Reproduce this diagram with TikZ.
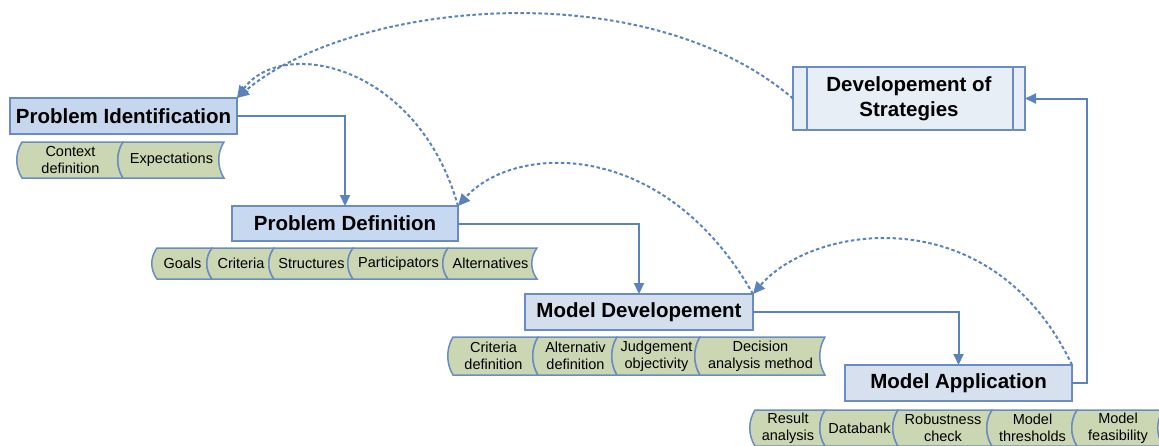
\documentclass[tikz,border=0pt]{standalone}
\usepackage{fontspec}
\setmainfont{Liberation Sans}
\usetikzlibrary{arrows.meta}

\definecolor{boxedge}{HTML}{6A8CC3}
\definecolor{flowline}{HTML}{5A83BE}
\definecolor{tagfill}{HTML}{CBD6B3}
\definecolor{fillA}{HTML}{C6D6EC}
\definecolor{fillB}{HTML}{C7D9F0}
\definecolor{fillC}{HTML}{D4DEED}
\definecolor{fillD}{HTML}{D7E0EE}
\definecolor{fillE}{HTML}{E8EEF6}

\tikzset{
  stagebox/.style={draw=boxedge, line width=1.7pt, inner sep=0pt, outer sep=0pt,
    font=\fontsize{20.5}{24.5}\selectfont\bfseries, align=center},
  flow/.style={draw=flowline, line width=2pt, -{Triangle[length=11pt,width=10pt]}},
  loopback/.style={draw=flowline, line width=2pt, dash pattern=on 3.5pt off 2.5pt,
    -{Triangle[length=12pt,width=11pt]}},
  tagtext/.style={font=\fontsize{14.5}{17}\selectfont, align=center, inner sep=0pt},
  tagshape/.style={fill=tagfill, draw=boxedge, line width=1.5pt},
}

% one labelled cell of a scroll strip: name, left x, right x, top y, bottom y, label
\newcommand\tagcell[6]{%
  \filldraw[tagshape]
    (#2,#4) .. controls ({#2-7},{#4+0.3*(#5-#4)}) and ({#2-7},{#5-0.3*(#5-#4)}) .. (#2,#5)
    -- (#3,#5) .. controls ({#3-7},{#5-0.3*(#5-#4)}) and ({#3-7},{#4+0.3*(#5-#4)}) .. (#3,#4)
    -- cycle;
  \node[tagtext] (#1) at ({(#2+#3)/2-2},{(#4+#5)/2}) {#6};
}

\begin{document}
\begin{tikzpicture}[x=1pt, y=-1pt]
\useasboundingbox (0,0) rectangle (1159,445);

% stages
\node[stagebox, fill=fillA, minimum width=227pt, minimum height=36pt] (PI) at (123.5,116) {Problem Identification};
\node[stagebox, fill=fillB, minimum width=226pt, minimum height=35pt] (PD) at (345,223.5) {Problem Definition};
\node[stagebox, fill=fillC, minimum width=228pt, minimum height=36pt] (MD) at (639,312) {Model Developement};
\node[stagebox, fill=fillD, minimum width=227pt, minimum height=36pt] (MA) at (958.5,383) {Model Application};
\node[stagebox, fill=fillE, minimum width=232pt, minimum height=63pt] (DS) at (909,98.5) {Developement of\\Strategies};
\draw[draw=boxedge, line width=1.7pt] ([xshift=14pt]DS.north west) -- ([xshift=14pt]DS.south west);
\draw[draw=boxedge, line width=1.7pt] ([xshift=-12pt]DS.north east) -- ([xshift=-12pt]DS.south east);

% attribute strips
\tagcell{ctx}{22}{123}{142}{178}{Context\\definition}
\tagcell{exp}{123}{224}{142}{178}{Expectations}

\tagcell{goa}{157}{212}{248}{279}{Goals}
\tagcell{cri}{212}{274}{248}{279}{Criteria}
\tagcell{str}{274}{353}{248}{279}{Structures}
\tagcell{par}{353}{448}{248}{279}{Participators}
\tagcell{alt}{448}{537}{248}{279}{Alternatives}

\tagcell{crd}{453}{538}{337}{375}{Criteria\\definition}
\tagcell{ald}{538}{617}{337}{375}{Alternativ\\definition}
\tagcell{jud}{617}{700}{337}{375}{Judgement\\objectivity}
\tagcell{dam}{700}{825}{337}{375}{Decision\\analysis method}

\tagcell{res}{755}{825}{410}{446}{Result\\analysis}
\tagcell{dat}{825}{898}{410}{446}{Databank}
\tagcell{rob}{898}{992}{410}{446}{Robustness\\check}
\tagcell{thr}{992}{1077}{410}{446}{Model\\thresholds}
\tagcell{fea}{1077}{1163}{410}{446}{Model\\feasibility}

% forward flow
\draw[flow] (PI.east) -| (PD.north);
\draw[flow] (PD.east) -| (MD.north);
\draw[flow] (MD.east) -| (MA.north);
\draw[flow] (MA.east) -- ++(15,0) |- (DS.east);

% feedback loops
\draw[loopback] (DS.west) .. controls +(-150,-128) and +(113,-96) .. (PI.north east);
\draw[loopback] (PD.north east) .. controls +(-40,-142) and +(45,-62) .. (PI.north east);
\draw[loopback] (MD.north east) .. controls +(-90,-158) and +(55,-62) .. (PD.north east);
\draw[loopback] (MA.north east) .. controls +(-80,-168) and +(60,-70) .. (MD.north east);
\end{tikzpicture}
\end{document}
